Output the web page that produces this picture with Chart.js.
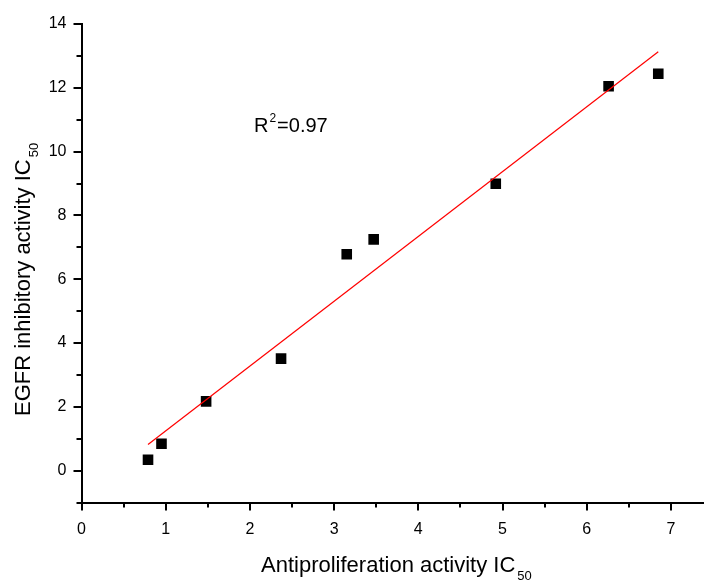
<!DOCTYPE html>
<html>
<head>
<meta charset="utf-8">
<script src="https://cdn.jsdelivr.net/npm/chart.js@4.4.1/dist/chart.umd.min.js"></script>
<style>
    html, body { margin: 0; padding: 0; background: #fff; overflow: hidden; }
    canvas { display: block; }
</style>
</head>
<body>
<canvas id="chart" width="722" height="581"></canvas>
<script>
const antiproliferation = [0.79, 0.95, 1.48, 2.37, 3.15, 3.47, 4.92, 6.26, 6.85]
const egfrInhibitory = [0.34, 0.84, 2.17, 3.51, 6.78, 7.25, 8.99, 12.05, 12.44]

const fitX = [0.79, 6.85]
const fitY = [0.82, 13.13]

const xTitle = "Antiproliferation activity IC"
const yTitle = "EGFR inhibitory activity IC"
const titleSubscript = "50"
const rSquaredText = ["R", "2", "=0.97"]

const fontName = "'Liberation Sans', Arial, sans-serif"

function isMajorX(v) { return Number.isInteger(v) }
function isMajorY(v) { return v % 2 === 0 }

const extrasPlugin = {
    id: "extras",
    afterDraw(chart) {
        let ctx = chart.ctx
        let xScale = chart.scales.x
        let yScale = chart.scales.y
        let area = chart.chartArea

        ctx.save()
        ctx.strokeStyle = "#000"
        ctx.lineWidth = 2
        xScale.ticks.forEach(t => {
            if (!isMajorX(t.value) && Number.isInteger(t.value * 2)) {
                let px = Math.round(xScale.getPixelForValue(t.value))
                ctx.beginPath()
                ctx.moveTo(px, area.bottom)
                ctx.lineTo(px, area.bottom + 5)
                ctx.stroke()
            }
        })
        yScale.ticks.forEach(t => {
            if (!isMajorY(t.value)) {
                let py = Math.round(yScale.getPixelForValue(t.value))
                ctx.beginPath()
                ctx.moveTo(area.left, py)
                ctx.lineTo(area.left - 5, py)
                ctx.stroke()
            }
        })

        ctx.fillStyle = "#000"
        ctx.textBaseline = "alphabetic"
        ctx.textAlign = "left"

        ctx.font = "22px " + fontName
        let xw = ctx.measureText(xTitle).width
        ctx.fillText(xTitle, 261, 572)
        ctx.font = "13px " + fontName
        ctx.fillText(titleSubscript, 261 + xw + 2, 580)

        ctx.save()
        ctx.translate(30, 416)
        ctx.rotate(-Math.PI / 2)
        ctx.font = "22px " + fontName
        let yw = ctx.measureText(yTitle).width
        ctx.fillText(yTitle, 0, 0)
        ctx.font = "13px " + fontName
        ctx.fillText(titleSubscript, yw + 2, 8)
        ctx.restore()

        ctx.font = "20px " + fontName
        ctx.fillText(rSquaredText[0], 254, 132)
        let rw = ctx.measureText(rSquaredText[0]).width
        ctx.font = "12px " + fontName
        ctx.fillText(rSquaredText[1], 254 + rw + 1, 122)
        let sw = ctx.measureText(rSquaredText[1]).width
        ctx.font = "20px " + fontName
        ctx.fillText(rSquaredText[2], 254 + rw + sw + 2, 132)
        ctx.restore()
    }
}

function drawChart() {
    const chartData = {
        datasets: [{
            label: "fit",
            type: "line",
            data: fitX.map((x, i) => ({ x: x, y: fitY[i] })),
            borderColor: "#ff0000",
            borderWidth: 1.2,
            pointRadius: 0,
            fill: false,
            tension: 0
        }, {
            label: "data",
            data: antiproliferation.map((x, i) => ({ x: x, y: egfrInhibitory[i] })),
            pointStyle: "rect",
            pointRadius: 7.5,
            backgroundColor: "#000",
            borderWidth: 0,
            showLine: false
        }]
    }

    const chartConfig = {
        type: "scatter",
        data: chartData,
        options: {
            responsive: false,
            animation: false,
            devicePixelRatio: 1,
            layout: { padding: { top: 24, right: 0, left: 0, bottom: 0 } },
            plugins: {
                legend: { display: false },
                tooltip: { enabled: false }
            },
            scales: {
                x: {
                    type: "linear",
                    min: 0,
                    max: 7.5,
                    afterFit: s => { s.height = 581 - 502.5 },
                    ticks: {
                        stepSize: 0.5,
                        autoSkip: false,
                        maxRotation: 0,
                        padding: 9,
                        color: "#000",
                        font: { family: fontName, size: 16 },
                        callback: v => isMajorX(v) ? v : ""
                    },
                    grid: {
                        drawOnChartArea: false,
                        tickLength: 8,
                        lineWidth: 2,
                        tickColor: c => c.tick && isMajorX(c.tick.value) ? "#000" : "rgba(0,0,0,0)"
                    },
                    border: { display: true, color: "#000", width: 2 }
                },
                y: {
                    type: "linear",
                    min: -1,
                    max: 14,
                    afterFit: s => { s.width = 81.5 },
                    ticks: {
                        stepSize: 1,
                        autoSkip: false,
                        padding: 7,
                        color: "#000",
                        font: { family: fontName, size: 16 },
                        callback: v => isMajorY(v) ? v : ""
                    },
                    grid: {
                        drawOnChartArea: false,
                        tickLength: 8,
                        lineWidth: 2,
                        tickColor: c => c.tick && isMajorY(c.tick.value) ? "#000" : "rgba(0,0,0,0)"
                    },
                    border: { display: true, color: "#000", width: 2 }
                }
            }
        },
        plugins: [extrasPlugin]
    }

    new Chart(document.getElementById("chart").getContext("2d"), chartConfig)
}

drawChart()
</script>
</body>
</html>
